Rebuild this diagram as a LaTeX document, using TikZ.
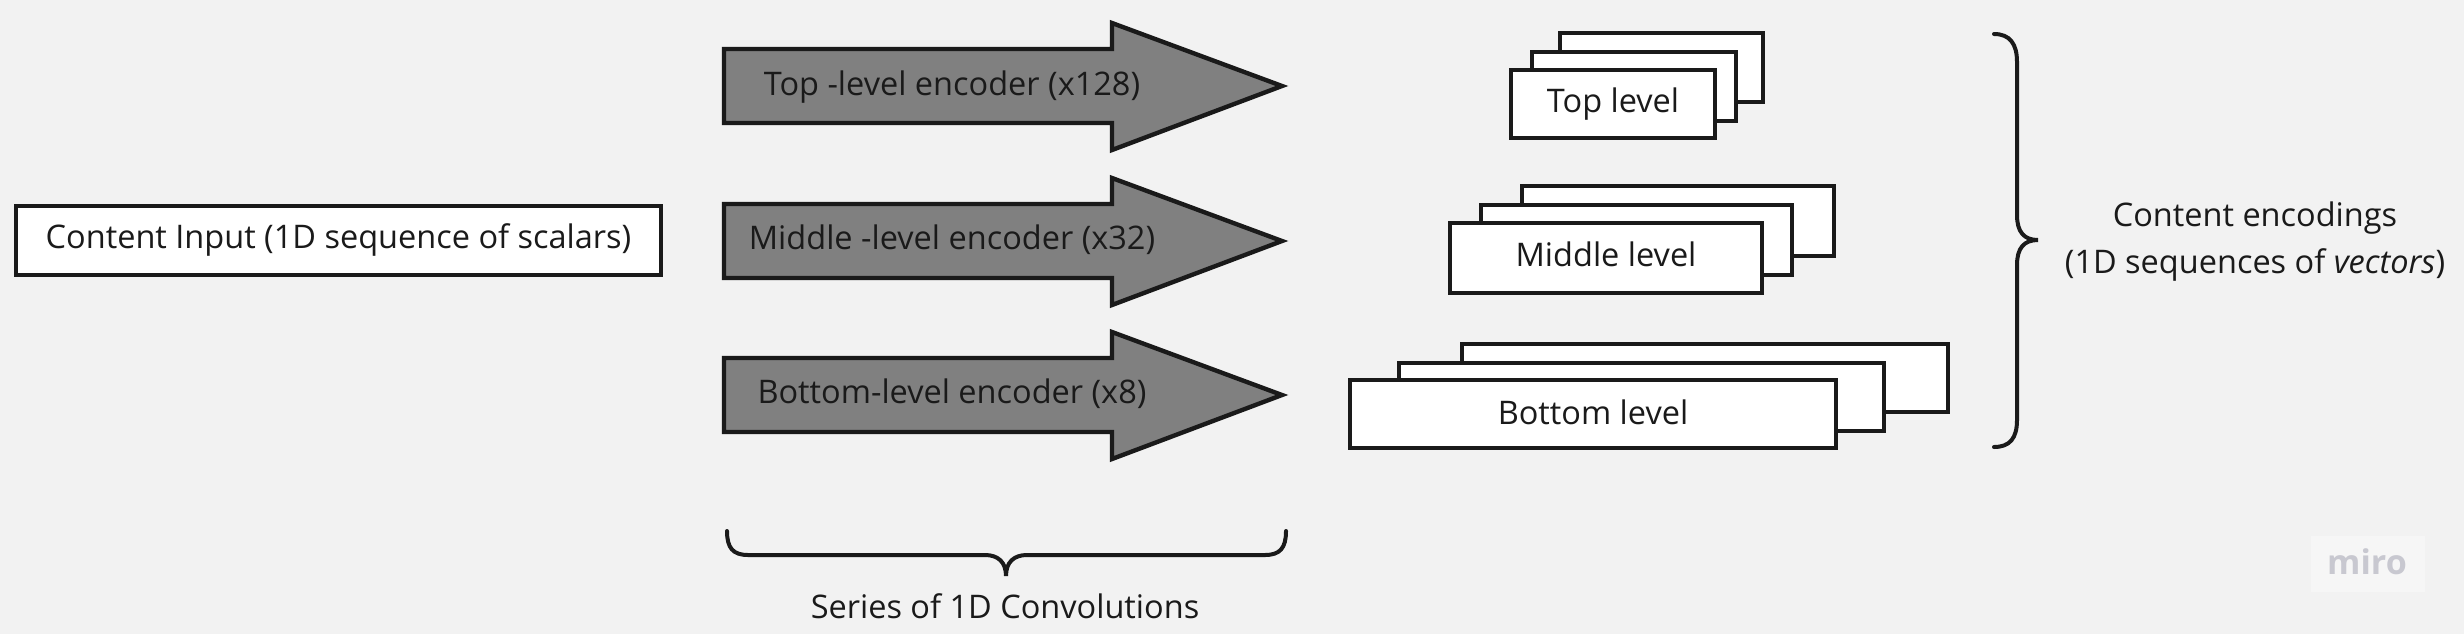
\documentclass[tikz,border=0pt]{standalone}
\usepackage{fontspec}
\setmainfont{Open Sans}
\usetikzlibrary{fit}
\definecolor{bg}{HTML}{F2F2F2}
\definecolor{ink}{HTML}{1A1A1A}
\definecolor{arrowfill}{HTML}{808080}
\definecolor{mirogray}{HTML}{C8C8D0}
\definecolor{mirobox}{HTML}{F6F6F6}
\begin{document}
\begin{tikzpicture}[x=0.5pt,y=-0.5pt,
  box/.style={draw=ink,fill=white,line width=2pt,inner sep=0pt,outer sep=0pt},
  encarrow/.style={draw=ink,fill=arrowfill,line width=2.2pt,line join=miter},
  lbl/.style={text=ink,font=\fontsize{16.25}{19}\selectfont,inner sep=0pt,anchor=base},
  bracepath/.style={draw=ink,line width=2pt,line cap=round}]
\fill[bg] (0,0) rectangle (2464,634);
\useasboundingbox (0,0) rectangle (2464,634);

% input
\node[box,fit={(16,206) (661,275)}] (input) {};
\node[lbl] (inputtxt) at (338.5,248.5) {Content Input (1D sequence of scalars)};

% encoder arrows
\draw[encarrow] (724,49) -- (1112,49) -- (1112,23) -- (1282,86) -- (1112,150) -- (1112,123) -- (724,123) -- cycle;
\draw[encarrow] (724,204) -- (1112,204) -- (1112,178) -- (1282,241) -- (1112,305) -- (1112,278) -- (724,278) -- cycle;
\draw[encarrow] (724,358) -- (1112,358) -- (1112,332) -- (1282,395) -- (1112,459) -- (1112,432) -- (724,432) -- cycle;
\node[lbl] (topenc) at (952,95.5) {Top -level encoder (x128)};
\node[lbl] (midenc) at (952,249.5) {Middle -level encoder (x32)};
\node[lbl] (botenc) at (952,403.5) {Bottom-level encoder (x8)};

% bottom brace
\draw[bracepath] (727,531) .. controls (727,548) and (733,555) .. (748,555) -- (985,555)
  .. controls (998,555) and (1006,562) .. (1006,576)
  .. controls (1006,562) and (1014,555) .. (1027,555) -- (1265,555)
  .. controls (1280,555) and (1286,548) .. (1286,531);
\node[lbl] (series) at (1005,618.5) {Series of 1D Convolutions};

% top level stack
\node[box,fit={(1560,33) (1763,102)}] (top3) {};
\node[box,fit={(1532,52) (1736,121)}] (top2) {};
\node[box,fit={(1511,70) (1715,138)}] (top1) {};
\node[lbl] (toptxt) at (1613,112.5) {Top level};

% middle level stack
\node[box,fit={(1522,186) (1834,256)}] (mid3) {};
\node[box,fit={(1481,205) (1792,275)}] (mid2) {};
\node[box,fit={(1450,223) (1762,293)}] (mid1) {};
\node[lbl] (midtxt) at (1606,266.5) {Middle level};

% bottom level stack
\node[box,fit={(1462,344) (1948,412)}] (bot3) {};
\node[box,fit={(1399,363) (1884,431)}] (bot2) {};
\node[box,fit={(1350,380) (1836,448)}] (bot1) {};
\node[lbl] (bottxt) at (1593,424.5) {Bottom level};

% right brace
\draw[bracepath] (1994,34) .. controls (2010,34) and (2017,44) .. (2017,62) -- (2017,215)
  .. controls (2017,232) and (2024,240) .. (2038,240)
  .. controls (2024,240) and (2017,248) .. (2017,265) -- (2017,420)
  .. controls (2017,438) and (2010,447) .. (1994,447);
\node[lbl] (enc1) at (2255,226) {Content encodings};
\node[lbl] (enc2) at (2255,273) {(1D sequences of \textit{vectors})};

% watermark
\node[fill=mirobox,inner sep=0pt,minimum width=57pt,minimum height=28pt] (mirobg) at (2368,564) {};
\node[text=mirogray,font=\fontsize{17}{20}\selectfont\bfseries,inner sep=0pt,anchor=base] (miro) at (2367,574) {miro};
\end{tikzpicture}
\end{document}
